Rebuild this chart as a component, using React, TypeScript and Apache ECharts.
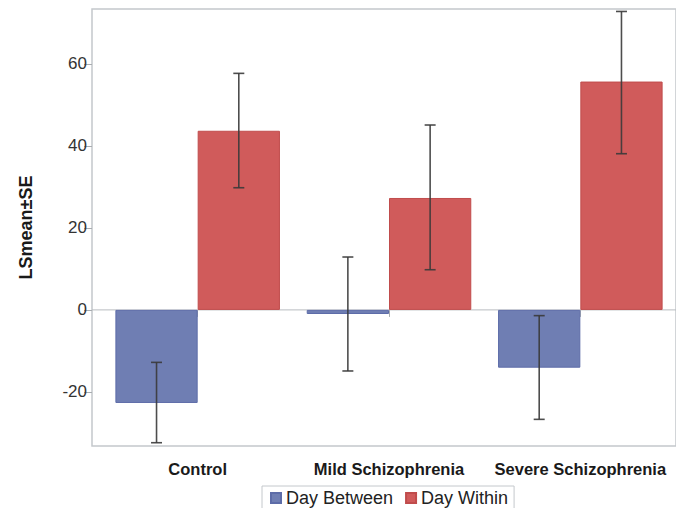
import React, { useEffect, useRef } from "react";
import * as echarts from "echarts";

const categories = ["Control", "Mild Schizophrenia", "Severe Schizophrenia"];
const dayBetween = [-22.7, -1.0, -14.1];
const dayBetweenLow = [-32.4, -14.9, -26.7];
const dayBetweenHigh = [-12.8, 12.9, -1.4];
const dayWithin = [43.7, 27.3, 55.7];
const dayWithinLow = [29.8, 9.8, 38.1];
const dayWithinHigh = [57.7, 45.1, 72.8];
const yTicks = [-20, 0, 20, 40, 60];

const FONT = "'Liberation Sans', Arial, Helvetica, sans-serif";
const GAP = 0.14;

export default function App() {
  const ref = useRef<HTMLDivElement>(null);
  useEffect(() => {
    if (!ref.current) return;
    const chart = echarts.init(ref.current, undefined, { renderer: "svg" });
    const errData: any[] = [];
    categories.forEach((_, i) => {
      errData.push([i, dayBetweenLow[i], dayBetweenHigh[i], 0]);
      errData.push([i, dayWithinLow[i], dayWithinHigh[i], 1]);
    });
    const yMin = -33.2;
    const yMax = 73.4;
    chart.setOption({
      animation: false,
      textStyle: { fontFamily: FONT },
      grid: [
        { left: 92, top: 9, bottom: 62, width: 620, show: true, borderColor: "#c4c8cc", borderWidth: 1.5, backgroundColor: "transparent" },
        { left: 102, top: 9, bottom: 62, width: 575 },
      ],
      xAxis: [
        { gridIndex: 0, type: "value", min: 0, max: 1, show: false },
        {
          gridIndex: 1,
          type: "category",
          data: categories,
          axisLine: { show: false },
          axisTick: { show: true, alignWithLabel: true, length: 7, lineStyle: { color: "#a8acb0", width: 1 } },
          axisLabel: { interval: 0, margin: 14, fontSize: 16.5, fontWeight: "bold", color: "#1a1a1a", fontFamily: FONT, hideOverlap: false },
        },
      ],
      yAxis: [
        {
          gridIndex: 0,
          type: "value",
          min: yMin,
          max: yMax,
          name: "LSmean±SE",
          nameLocation: "middle",
          nameGap: 57,
          nameTextStyle: { fontSize: 18, fontWeight: "bold", color: "#1a1a1a", fontFamily: FONT },
          axisLine: { show: false },
          axisTick: { show: true, length: 8, customValues: yTicks, lineStyle: { color: "#a8acb0" } },
          axisLabel: { customValues: yTicks, fontSize: 17, color: "#333", margin: 5, fontFamily: FONT },
          splitLine: { show: false },
        },
        { gridIndex: 1, type: "value", min: yMin, max: yMax, show: false },
      ],
      legend: {
        data: ["Day Between", "Day Within"],
        left: 262,
        top: 486,
        orient: "horizontal",
        icon: "rect",
        itemWidth: 10,
        itemHeight: 10,
        itemGap: 12,
        padding: [3, 6, 3, 8],
        borderColor: "#c4c8cc",
        borderWidth: 1,
        textStyle: { fontSize: 18, color: "#222", fontFamily: FONT },
      },
      series: [
        {
          type: "line",
          xAxisIndex: 0,
          yAxisIndex: 0,
          data: [[0, 0], [1, 0]],
          symbol: "none",
          silent: true,
          lineStyle: { color: "#b8bcc0", width: 1 },
          z: 1,
        },
        {
          name: "Day Between",
          type: "bar",
          xAxisIndex: 1,
          yAxisIndex: 1,
          data: dayBetween,
          barGap: "0%",
          barCategoryGap: GAP * 100 + "%",
          itemStyle: { color: "#6F7EB3", borderColor: "#5d6ca8", borderWidth: 1 },
          z: 2,
        },
        {
          name: "Day Within",
          type: "bar",
          xAxisIndex: 1,
          yAxisIndex: 1,
          data: dayWithin,
          barGap: "0%",
          barCategoryGap: GAP * 100 + "%",
          itemStyle: { color: "#D05B5B", borderColor: "#c04c4c", borderWidth: 1 },
          z: 2,
        },
        {
          type: "custom",
          xAxisIndex: 1,
          yAxisIndex: 1,
          data: errData,
          encode: { x: 0, y: [1, 2] },
          z: 5,
          renderItem: (params: any, api: any) => {
            const i = api.value(0);
            const lo = api.value(1);
            const hi = api.value(2);
            const s = api.value(3);
            const band = api.size([1, 0])[0];
            const barW = (band * (1 - GAP)) / 2;
            const off = (s === 0 ? -0.5 : 0.5) * barW;
            const pLo = api.coord([i, lo]);
            const pHi = api.coord([i, hi]);
            const x = pLo[0] + off;
            const cap = 5.5;
            const style = { stroke: "#3a3a3a", lineWidth: 1.6, opacity: 0.9 };
            return {
              type: "group",
              children: [
                { type: "line", shape: { x1: x, y1: pLo[1], x2: x, y2: pHi[1] }, style },
                { type: "line", shape: { x1: x - cap, y1: pLo[1], x2: x + cap, y2: pLo[1] }, style },
                { type: "line", shape: { x1: x - cap, y1: pHi[1], x2: x + cap, y2: pHi[1] }, style },
              ],
            };
          },
        },
      ],
    });
    return () => chart.dispose();
  }, []);
  return (
    <div
      ref={ref}
      style={{ position: "absolute", left: 0, top: 0, width: 676, height: 508, background: "#fff" }}
    />
  );
}
